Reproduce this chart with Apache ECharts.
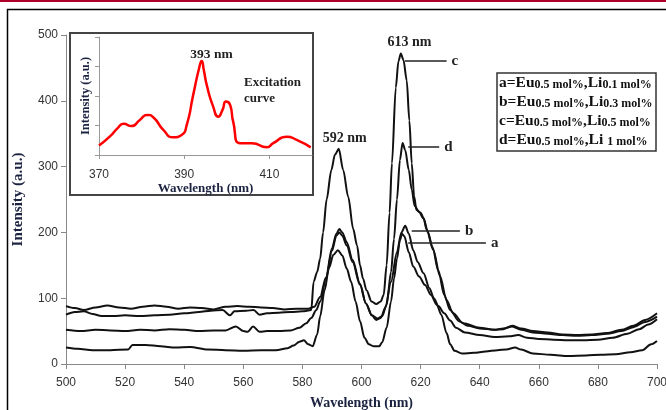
<!DOCTYPE html>
<html>
<head>
<meta charset="utf-8">
<script src="https://cdn.jsdelivr.net/npm/echarts@6.0.0/dist/echarts.min.js"></script>
<style>
  html, body { margin: 0; padding: 0; background: #fff; }
  #main { width: 666px; height: 410px; }
</style>
</head>
<body>
<div id="main"></div>
<script>
// emission spectra, [wavelength nm, intensity]
var curveA = [[500,25],[504,23],[509,21],[515,21],[521,22],[522.5,29],[527,29],[532,27],[537,25],[542,26],[548,22],[554,21],[560,20],[566,21],[571,21],[575,24],[577,28],[579,34],[580.5,36],[582,30],[583.5,27],[585,45],[586,72],[587.5,112],[589,146],[590.5,166],[592,173],[593.5,165],[595,145],[596.5,125],[598,95],[599.5,65],[601,40],[602.5,30],[604,27],[606,27],[607,33],[608.5,55],[610,95],[611,130],[612,160],[613,188],[613.7,198],[614.5,194],[616,170],[617.5,148],[619.5,133],[621.5,120],[623.5,105],[625.5,90],[627,75],[628.8,47],[630,30],[631.5,20],[634,16],[638,17],[642,19],[646,21],[649,22],[652,25],[654,22],[658,16],[664,14],[670,12],[676,13],[681,14],[686,15],[691,18],[695,21],[698,30],[700,35]];
var curveB = [[500,88],[503,85],[506,82],[510,86],[514,89],[518,86],[522,84],[526,87],[530,89],[534,87],[538,84],[542,86],[546,85],[550,83],[554,87],[558,88],[562,87],[566,86],[570,85],[574,83],[578,84],[582,84],[584,87],[586,102],[588,132],[590,176],[591.5,198],[592.5,205],[593.5,200],[595,185],[597,158],[599.5,122],[601.5,92],[603.5,74],[605,67],[606.5,70],[608,85],[610,125],[612,170],[613.5,200],[614.8,210],[616,198],[617.5,173],[619,155],[621,138],[623,115],[624.5,100],[626,88],[628,77],[630,66],[632,55],[635,48],[640,44],[645,41],[650,42],[653,44],[656,40],[660,38],[665,37],[670,36],[675,36],[680,37],[685,40],[690,46],[694,53],[697,60],[700,68]];
var curveC = [[500,75],[503,79],[506,80],[509,76],[512,73],[516,73],[520,74],[525,73],[530,74],[535,75],[540,77],[545,79],[549,81],[553,82],[555.5,74],[557,80],[561,81],[563.5,82],[565.5,75],[568,77],[572,78],[576,79],[580,80],[583,82],[583.8,125],[585,140],[586,160],[587,200],[588.2,250],[589.8,295],[591,318],[592.3,327],[593.8,295],[595.5,254],[597.2,205],[598.5,180],[599.5,150],[600.5,130],[601.7,112],[603.4,95],[605,91],[606.5,95],[607.5,105],[608.5,150],[609.5,230],[610.3,305],[611.6,420],[612.5,460],[613.3,472],[614.2,462],[615.3,431],[616.2,370],[617,305],[617.8,255],[618.6,234],[620,230],[621,222],[622,205],[624.3,173],[626.6,133],[628.8,97],[631,77],[634.4,62],[640,55],[645,52],[648,53],[651,58],[654,54],[658,50],[663,48],[668,45],[673,44],[678,45],[683,47],[688,52],[692,58],[696,67],[700,77]];
var curveD = [[500,52],[505,50],[510,52],[515,51],[520,50],[525,52],[530,51],[535,53],[540,52],[545,50],[550,51],[554,51],[557.5,57],[560,50],[561.5,49],[563.3,57],[565.5,49],[568,50],[572,50],[576,51],[579,55],[581.3,62],[583,70],[584.7,82],[586,95],[588,130],[590,172],[591.5,195],[592.5,200],[593.5,195],[595,180],[597,155],[599.5,120],[601.5,92],[603.5,74],[605.5,69],[607,73],[608.5,90],[610,140],[611,190],[612,250],[613,310],[613.9,336],[614.8,325],[616,295],[617,265],[618,240],[619.5,231],[621,221],[622.5,200],[624,178],[626,142],[628,105],[630,82],[633,65],[636,58],[640,54],[645,52],[648,54],[651,57],[654,52],[658,48],[663,46],[668,44],[673,43],[678,44],[683,46],[688,50],[692,56],[696,64],[700,72]];

// excitation curve (inset), [wavelength nm, intensity]
var excitation = [[370,0.32],[372.5,0.62],[374.5,0.93],[375.8,1.06],[377.6,0.98],[379.6,1.19],[381.3,1.36],[382.8,1.27],[385.1,0.85],[387.4,0.60],[389.4,0.68],[390.6,1.02],[392.1,2.03],[393.5,2.94],[394.1,3.19],[394.6,2.88],[395.3,2.37],[396.8,1.64],[398,1.30],[399,1.53],[399.8,1.81],[400.8,1.69],[401.5,1.13],[403.1,0.40],[405.9,0.40],[409.4,0.26],[410.9,0.40],[414.1,0.62],[416.4,0.51],[419.7,0.26]];

var xTicks = [500, 520, 540, 560, 580, 600, 620, 640, 660, 680, 700];
var yTicks = [0, 100, 200, 300, 400, 500];
var insetXTicks = [370, 390, 410];

var serif = '"Liberation Serif", "Times New Roman", serif';
var sans = '"Liberation Sans", Arial, sans-serif';
var titleColor = '#1b2340';

function callout(letter, x0, x1, y) {
  return {
    silent: true,
    symbol: ['none', 'none'],
    animation: false,
    lineStyle: { color: '#222', width: 1.5, type: 'solid' },
    label: { show: true, position: 'end', distance: 5, formatter: letter,
      fontFamily: serif, fontWeight: 'bold', fontSize: 15, color: '#222' },
    emphasis: { disabled: true },
    data: [[{ coord: [x0, y] }, { coord: [x1, y] }]]
  };
}

function peakText(items, size) {
  return {
    silent: true,
    animation: false,
    symbol: 'circle',
    symbolSize: 0,
    label: { show: true, position: 'inside', formatter: '{b}',
      fontFamily: serif, fontWeight: 'bold', fontSize: size, color: '#222' },
    data: items
  };
}

function spectrum(data, mark, points) {
  var s = {
    type: 'line',
    data: data,
    showSymbol: false,
    smooth: 0.3,
    smoothMonotone: 'x',
    lineStyle: { color: '#111', width: 2 },
    emphasis: { disabled: true },
    animation: false,
    z: 3,
    markLine: mark
  };
  if (points) s.markPoint = points;
  return s;
}

var chart = echarts.init(document.getElementById('main'));

var option = {
  backgroundColor: '#fff',
  animation: false,
  grid: [
    { left: 66, right: 9, top: 35, bottom: 46, outerBoundsMode: 'none' },
    { left: 99, top: 37, width: 213, height: 118, outerBoundsMode: 'none' }
  ],
  xAxis: [{
    type: 'value', gridIndex: 0, min: 500, max: 700, interval: 20,
    name: 'Wavelength (nm)', nameLocation: 'middle', nameGap: 32,
    nameTextStyle: { fontFamily: serif, fontWeight: 'bold', fontSize: 14, color: titleColor },
    axisLine: { lineStyle: { color: '#888' } },
    axisTick: { length: 5, lineStyle: { color: '#888' } },
    axisLabel: { margin: 13, fontFamily: sans, fontSize: 12, color: '#333', customValues: xTicks },
    splitLine: { show: false }
  }, {
    type: 'value', gridIndex: 1, min: 370, max: 420,
    name: 'Wavelength (nm)', nameLocation: 'middle', nameGap: 25,
    nameTextStyle: { fontFamily: serif, fontWeight: 'bold', fontSize: 13, color: titleColor },
    axisLine: { lineStyle: { color: '#999' } },
    axisTick: { length: 4, lineStyle: { color: '#999' }, customValues: insetXTicks },
    axisLabel: { margin: 14, fontFamily: sans, fontSize: 12, color: '#333', customValues: insetXTicks },
    splitLine: { show: false }
  }],
  yAxis: [{
    type: 'value', gridIndex: 0, min: 0, max: 500, interval: 100,
    name: 'Intensity (a.u.)', nameLocation: 'middle', nameGap: 40,
    nameTextStyle: { fontFamily: serif, fontWeight: 'bold', fontSize: 15, color: titleColor },
    axisLine: { show: true, lineStyle: { color: '#888' } },
    axisTick: { show: true, length: 5, lineStyle: { color: '#888' } },
    axisLabel: { margin: 8, fontFamily: sans, fontSize: 12, color: '#333', customValues: yTicks },
    splitLine: { show: false }
  }, {
    type: 'value', gridIndex: 1, min: 0, max: 4, interval: 1,
    name: 'Intensity (a.u.)', nameLocation: 'middle', nameGap: 7,
    nameTextStyle: { fontFamily: serif, fontWeight: 'bold', fontSize: 12.5, color: titleColor },
    axisLine: { show: true, lineStyle: { color: '#999' } },
    axisTick: { show: true, length: 4, lineStyle: { color: '#999' } },
    axisLabel: { show: false },
    splitLine: { show: false }
  }],
  series: [
    spectrum(curveA, callout('a', 615.8, 642.1, 184)),
    spectrum(curveB, callout('b', 617, 633.3, 202.6)),
    spectrum(curveC, callout('c', 614.7, 628.8, 461),
      peakText([{ name: '592 nm', coord: [594.3, 343] }, { name: '613 nm', coord: [616.2, 489] }], 14)),
    spectrum(curveD, callout('d', 615.8, 626.3, 330)),
    {
      type: 'line', xAxisIndex: 1, yAxisIndex: 1,
      data: excitation, showSymbol: false, smooth: 0.6,
      lineStyle: { color: '#ff0000', width: 2.5 },
      emphasis: { disabled: true }, animation: false, z: 3,
      markPoint: peakText([{ name: '393 nm', coord: [396.4, 3.4] }], 13.5)
    }
  ],
  graphic: [
    { type: 'rect', silent: true, shape: { x: 0, y: 0, width: 666, height: 2 },
      style: { fill: '#b0002a' } },
    { type: 'rect', silent: true, shape: { x: 7.5, y: 9.5, width: 700, height: 500 },
      style: { fill: 'none', stroke: '#000', lineWidth: 1.5 } },
    { type: 'rect', silent: true, shape: { x: 70, y: 33, width: 243, height: 162 },
      style: { fill: 'none', stroke: '#444', lineWidth: 2 } },
    { type: 'text', silent: true, left: 244, top: 75,
      style: { text: 'Excitation\ncurve', font: 'bold 13px ' + serif, lineHeight: 16, fill: '#222' } },
    { type: 'rect', silent: true, shape: { x: 497, y: 73, width: 159, height: 78 },
      style: { fill: '#fff', stroke: '#333', lineWidth: 1.5 } },
    { type: 'text', silent: true, left: 499, top: 75,
      style: {
        text: '{b|a=Eu}{s|0.5 mol%}{b|,Li}{s|0.1 mol%}\n' +
              '{b|b=Eu}{s|0.5 mol%}{b|,Li}{s|0.3 mol%}\n' +
              '{b|c=Eu}{s|0.5 mol%}{b|,Li}{s|0.5 mol%}\n' +
              '{b|d=Eu}{s|0.5 mol%}{b|,Li }{s|1 mol%}',
        fill: '#111',
        rich: {
          b: { fontFamily: serif, fontWeight: 'bold', fontSize: 15.5, lineHeight: 19, verticalAlign: 'bottom', fill: '#111' },
          s: { fontFamily: serif, fontWeight: 'bold', fontSize: 12, lineHeight: 19, verticalAlign: 'bottom', fill: '#111' }
        }
      } }
  ]
};

chart.setOption(option);
</script>
</body>
</html>
